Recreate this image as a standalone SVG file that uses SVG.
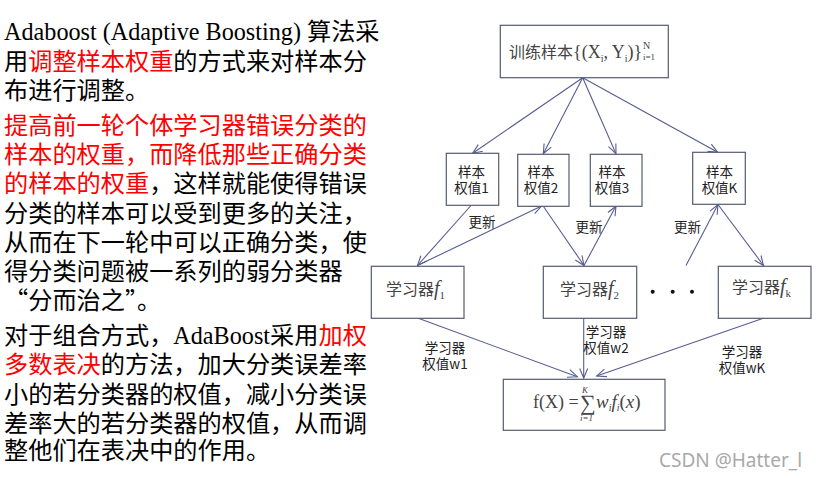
<svg xmlns="http://www.w3.org/2000/svg" width="816" height="481" viewBox="0 0 816 481">
<style>
text{font-family:"Liberation Serif","Noto Sans CJK SC",serif}
.b{font-size:24.2px;fill:#000}
.r{fill:#f00}
.cj{font-family:"Noto Sans CJK SC",sans-serif}
.s{font-family:"Noto Sans CJK SC","Liberation Sans",sans-serif;font-size:13.5px;fill:#222;text-anchor:middle}
.box{fill:#fff;stroke:#555a70;stroke-width:1.2}
.m{fill:#444}
.i{font-style:italic}
.c{fill:none;stroke:#565d92;stroke-width:1.1}
</style>
<defs>
<marker id="a" markerWidth="12" markerHeight="10" refX="10.5" refY="5" orient="auto" markerUnits="userSpaceOnUse"><path d="M1,1 L10.5,5 L1,9" fill="none" stroke="#565d92" stroke-width="1.1"/></marker>
</defs>
<rect width="816" height="481" fill="#fff"/>
<g id="body-text" class="b">
<text class="b" x="4" y="40">Adaboost (Adaptive Boosting) 算法采</text>
<text class="b" x="4" y="70">用<tspan class="r">调整样本权重</tspan>的方式来对样本分</text>
<text class="b" x="4" y="99">布进行调整。</text>
<text class="b r" x="4" y="134">提高前一轮个体学习器错误分类的</text>
<text class="b" x="4" y="163"><tspan class="r">样本的权重，而降低那些正确分类</tspan></text>
<text class="b" x="4" y="192"><tspan class="r">的样本的权重</tspan>，这样就能使得错误</text>
<text class="b" x="4" y="222">分类的样本可以受到更多的关注，</text>
<text class="b" x="4" y="251">从而在下一轮中可以正确分类，使</text>
<text class="b" x="4" y="280">得分类问题被一系列的弱分类器</text>
<text class="b cj" x="4" y="309">“分而治之”。</text>
<text class="b" x="4" y="344">对于组合方式，AdaBoost采用<tspan class="r">加权</tspan></text>
<text class="b" x="4" y="373"><tspan class="r">多数表决</tspan>的方法，加大分类误差率</text>
<text class="b" x="4" y="403">小的若分类器的权值，减小分类误</text>
<text class="b" x="4" y="432">差率大的若分类器的权值，从而调</text>
<text class="b" x="4" y="459">整他们在表决中的作用。</text>
</g>
<g id="connectors">
<path class="c" marker-end="url(#a)" d="M582.7,77.7 L472.7,153.3"/>
<path class="c" marker-end="url(#a)" d="M582.7,77.7 L543.3,153.7"/>
<path class="c" marker-end="url(#a)" d="M582.7,77.7 L616,153.7"/>
<path class="c" marker-end="url(#a)" d="M582.7,77.7 L717.7,152.3"/>
<path class="c" marker-end="url(#a)" d="M471,205.5 L417.5,265.5"/>
<path class="c" marker-end="url(#a)" d="M417.5,265.5 L541.5,206"/>
<path class="c" marker-end="url(#a)" d="M543.5,206.5 L584,265.5"/>
<path class="c" marker-end="url(#a)" d="M584,265.5 L616,206"/>
<path class="c" marker-end="url(#a)" d="M686,265.5 L718,204.5"/>
<path class="c" marker-end="url(#a)" d="M718,204.5 L763.5,265.5"/>
<path class="c" marker-end="url(#a)" d="M418.3,318.3 L577.3,376.7"/>
<path class="c" marker-end="url(#a)" d="M583.7,318.3 L583.7,378"/>
<path class="c" marker-end="url(#a)" d="M763.3,318.3 L596.7,376"/>
</g>
<g id="n-train"><rect class="box" x="500.3" y="25.3" width="168" height="52.4"/>
<text class="m" x="509" y="58" font-size="18"><tspan class="cj" font-size="16">训练样本</tspan>{(X<tspan font-size="10" dy="4">i</tspan><tspan dy="-4">, Y</tspan><tspan font-size="10" dy="4">i</tspan><tspan dy="-4">)}</tspan></text>
<text class="m" x="643" y="49" font-size="10">N</text><text class="m" x="643" y="60" font-size="9">i=1</text></g>
<g id="n-w1"><rect class="box" x="446.3" y="153.3" width="52.4" height="52"/><text class="s" x="471.5" y="177">样本</text><text class="s" x="471.5" y="193">权值1</text></g>
<g id="n-w2"><rect class="box" x="517.7" y="154.3" width="51.3" height="52"/><text class="s" x="541" y="177">样本</text><text class="s" x="541" y="193">权值2</text></g>
<g id="n-w3"><rect class="box" x="590.3" y="154.3" width="51.7" height="52"/><text class="s" x="612" y="177">样本</text><text class="s" x="612" y="193">权值3</text></g>
<g id="n-wk"><rect class="box" x="692.7" y="152.3" width="52.6" height="52"/><text class="s" x="719.5" y="177">样本</text><text class="s" x="719.5" y="193">权值K</text></g>
<g id="n-f1"><rect class="box" x="371.3" y="266.3" width="92.7" height="52"/><text class="m" x="386" y="295" font-size="16"><tspan class="cj">学习器</tspan><tspan class="i" font-size="20">f</tspan><tspan font-size="11" dy="4">1</tspan></text></g>
<g id="n-f2"><rect class="box" x="543.3" y="266.3" width="93.4" height="52"/><text class="m" x="560" y="295" font-size="16"><tspan class="cj">学习器</tspan><tspan class="i" font-size="20">f</tspan><tspan font-size="11" dy="4">2</tspan></text></g>
<g id="n-fk"><rect class="box" x="718.3" y="266.3" width="92.7" height="52"/><text class="m" x="732" y="293" font-size="16"><tspan class="cj">学习器</tspan><tspan class="i" font-size="20">f</tspan><tspan font-size="11" dy="4">k</tspan></text></g>
<g id="n-result"><rect class="box" x="503.3" y="379.3" width="161.7" height="51"/>
<text class="m" x="533" y="408" font-size="18">f(X) = </text>
<text class="m" x="580" y="410" font-size="22">∑</text>
<text class="m i" x="582" y="393" font-size="9">K</text>
<text class="m i" x="580" y="421" font-size="9">i=1</text>
<text class="m" x="596" y="408" font-size="19"><tspan class="i">w</tspan><tspan class="i" font-size="10" dy="3">i</tspan><tspan class="i" dy="-3">f</tspan><tspan class="i" font-size="10" dy="3">i</tspan><tspan dy="-3">(</tspan><tspan class="i">x</tspan>)</text></g>
<g id="dots" fill="#111"><circle cx="652.7" cy="291.7" r="2"/><circle cx="672.7" cy="291.7" r="2"/><circle cx="692" cy="291.7" r="2"/></g>
<g id="labels">
<text class="s" x="445" y="353">学习器</text><text class="s" x="445" y="369">权值w1</text>
<text class="s" x="606" y="337">学习器</text><text class="s" x="606" y="353">权值w2</text>
<text class="s" x="742" y="357">学习器</text><text class="s" x="742" y="373">权值wK</text>
<text class="s" x="482" y="227">更新</text>
<text class="s" x="589" y="232">更新</text>
<text class="s" x="687.5" y="232">更新</text>
</g>
<text id="watermark" x="659" y="467" font-size="19" fill="#a9a9a9" style="font-family:'Noto Sans','Liberation Sans',sans-serif">CSDN @Hatter_l</text>
</svg>
